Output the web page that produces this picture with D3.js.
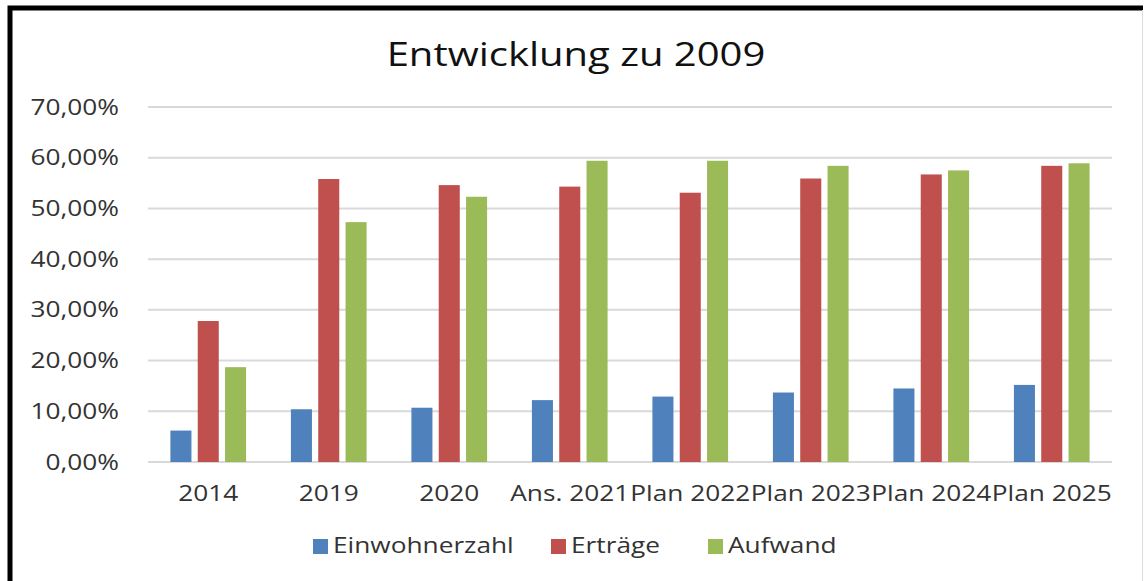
<!DOCTYPE html>
<html>
<head>
<meta charset="utf-8">
<script src="https://cdn.jsdelivr.net/npm/d3@7"></script>
<style>
  body { margin: 0; background: #fff; }
  svg { display: block; font-family: "Open Sans", sans-serif; }
</style>
</head>
<body>
<svg width="1145" height="581"></svg>
<script>
// DATA
const categories = ["2014", "2019", "2020", "Ans. 2021", "Plan 2022", "Plan 2023", "Plan 2024", "Plan 2025"];
const seriesNames = ["Einwohnerzahl", "Erträge", "Aufwand"];
const einwohnerzahl = [6.2, 10.4, 10.7, 12.2, 12.9, 13.7, 14.5, 15.2];
const ertraege = [27.8, 55.8, 54.6, 54.3, 53.1, 55.9, 56.7, 58.4];
const aufwand = [18.7, 47.3, 52.3, 59.4, 59.4, 58.4, 57.5, 58.9];
const yTicks = [0, 10, 20, 30, 40, 50, 60, 70];

const seriesValues = [einwohnerzahl, ertraege, aufwand];
const colors = ["#4F81BD", "#C0504D", "#9BBB59"];

const svg = d3.select("svg");
const width = +svg.attr("width");
const height = +svg.attr("height");

// text in the picture is stretched sideways
const stretch = 1.25;
function widen(sel) {
  sel.each(function() {
    const w = this.getComputedTextLength();
    d3.select(this).attr("textLength", w * stretch).attr("lengthAdjust", "spacingAndGlyphs");
  });
}

// frame
svg.append("path")
  .attr("d", `M10,${height} L10,8 L1143,8`)
  .attr("fill", "none")
  .attr("stroke", "#000")
  .attr("stroke-width", 5);
svg.append("line")
  .attr("x1", 1142.5).attr("x2", 1142.5)
  .attr("y1", 10).attr("y2", height)
  .attr("stroke", "#ddd");

// SCALES
const plot = { left: 148, right: 1112, top: 107, bottom: 462 };
const y = d3.scaleLinear().domain([0, 70]).range([plot.bottom, plot.top]);
const x0 = d3.scaleBand().domain(categories).range([plot.left, plot.right]);
const x1 = d3.scaleBand().domain(seriesNames).range([0, x0.bandwidth()])
  .paddingInner(0.23).paddingOuter(0.82);

// gridlines
svg.append("g")
  .selectAll("line")
  .data(yTicks)
  .join("line")
  .attr("x1", plot.left).attr("x2", plot.right)
  .attr("y1", d => y(d)).attr("y2", d => y(d))
  .attr("stroke", "#d9d9d9")
  .attr("stroke-width", 2);

// y labels
const fmt = d => d.toFixed(2).replace(".", ",") + "%";
svg.append("g")
  .selectAll("text")
  .data(yTicks)
  .join("text")
  .attr("x", 119)
  .attr("y", d => y(d))
  .attr("dy", "0.36em")
  .attr("text-anchor", "end")
  .attr("font-size", 21)
  .attr("fill", "#333")
  .text(fmt)
  .call(widen);

// bars
const groups = svg.append("g")
  .selectAll("g")
  .data(categories)
  .join("g")
  .attr("transform", d => `translate(${x0(d)},0)`);

groups.selectAll("rect")
  .data((c, i) => seriesNames.map((s, j) => ({ series: s, value: seriesValues[j][i], color: colors[j] })))
  .join("rect")
  .attr("x", d => x1(d.series))
  .attr("width", x1.bandwidth())
  .attr("y", d => y(d.value))
  .attr("height", d => y(0) - y(d.value))
  .attr("fill", d => d.color);

// x labels
svg.append("g")
  .selectAll("text")
  .data(categories)
  .join("text")
  .attr("x", d => x0(d) + x0.bandwidth() / 2)
  .attr("y", 501)
  .attr("text-anchor", "middle")
  .attr("font-size", 21)
  .attr("fill", "#333")
  .text(d => d)
  .call(widen);

// title
svg.append("text")
  .attr("x", 576)
  .attr("y", 66)
  .attr("text-anchor", "middle")
  .attr("font-size", 32)
  .attr("fill", "#111")
  .text("Entwicklung zu 2009")
  .call(widen);

// legend
const legendX = [313, 551, 708];
const legend = svg.append("g")
  .selectAll("g")
  .data(seriesNames)
  .join("g")
  .attr("transform", (d, i) => `translate(${legendX[i]},539)`);
legend.append("rect")
  .attr("width", 15).attr("height", 15)
  .attr("fill", (d, i) => colors[i]);
legend.append("text")
  .attr("x", 20)
  .attr("y", 14)
  .attr("font-size", 21)
  .attr("fill", "#333")
  .text(d => d)
  .call(widen);
</script>
</body>
</html>
